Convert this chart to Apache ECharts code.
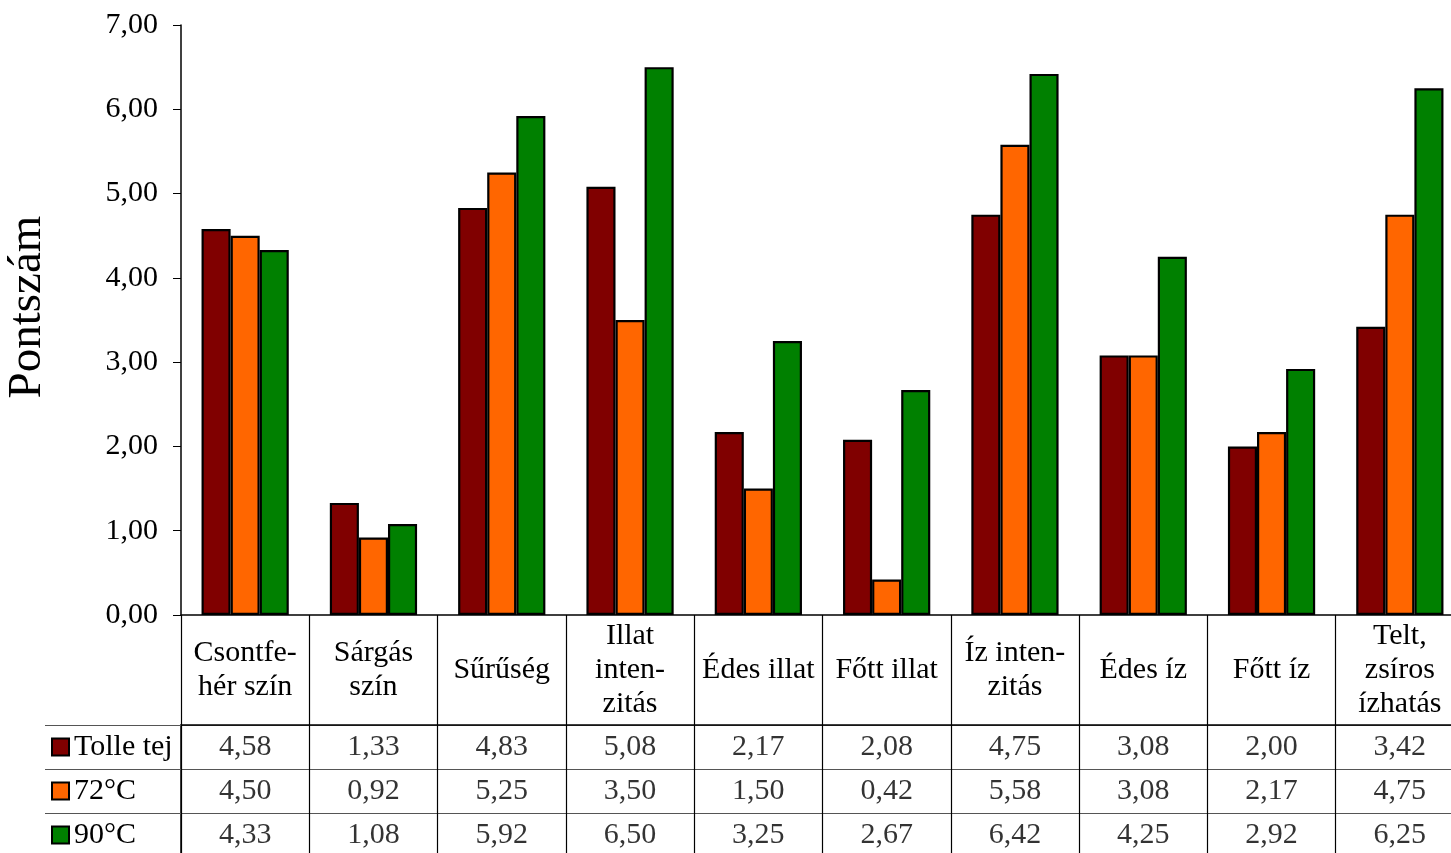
<!DOCTYPE html>
<html>
<head>
<meta charset="utf-8">
<script src="https://cdn.jsdelivr.net/npm/echarts@6/dist/echarts.min.js"></script>
<style>
  html, body { margin: 0; padding: 0; background: #fff; }
  #chart { width: 1451px; height: 853px; }
</style>
</head>
<body>
<div id="chart"></div>
<script>
// Sensory attribute scores per milk treatment
const categories = [
  'Csontfe-\nhér szín', 'Sárgás\nszín', 'Sűrűség', 'Illat\ninten-\nzitás', 'Édes illat',
  'Főtt illat', 'Íz inten-\nzitás', 'Édes íz', 'Főtt íz', 'Telt,\nzsíros\nízhatás'
];
const seriesNames = ['Tolle tej', '72°C', '90°C'];
const tolleTej = [4.58, 1.33, 4.83, 5.08, 2.17, 2.08, 4.75, 3.08, 2.00, 3.42];
const heat72 = [4.50, 0.92, 5.25, 3.50, 1.50, 0.42, 5.58, 3.08, 2.17, 4.75];
const heat90 = [4.33, 1.08, 5.92, 6.50, 3.25, 2.67, 6.42, 4.25, 2.92, 6.25];
const yMin = 0, yMax = 7, yStep = 1;
const axisTitle = 'Pontszám';

const colors = ['#800000', '#FF6600', '#008000'];
const rows = [tolleTej, heat72, heat90];
const FONT = "'Liberation Serif', 'Times New Roman', serif";
const FS = 30;
const fmt = v => v.toFixed(2).replace('.', ',');

// cells of the data table: [column, row, value]
const cells = [];
rows.forEach((vals, r) => vals.forEach((v, c) => cells.push([c, r, v])));

const keyRich = { t: { fontFamily: FONT, fontSize: FS, color: '#000', padding: [0, 0, 0, 6] } };
colors.forEach((col, i) => {
  keyRich['k' + i] = { width: 15, height: 15, backgroundColor: col, borderColor: '#000', borderWidth: 2 };
});

// plot area runs a little past the right edge of the canvas
const plotLeft = 181, plotRight = -13;

const chart = echarts.init(document.getElementById('chart'), null, { renderer: 'canvas' });
chart.setOption({
  animation: false,
  backgroundColor: '#fff',
  textStyle: { fontFamily: FONT },
  grid: [
    { left: plotLeft, right: plotRight, top: 25, height: 590, outerBoundsMode: 'none', containLabel: false },
    { left: plotLeft, right: plotRight, top: 725, bottom: -4, outerBoundsMode: 'none', containLabel: false }
  ],
  xAxis: [
    {
      gridIndex: 0, type: 'category', data: categories,
      axisLine: { lineStyle: { color: '#000', width: 1.5 } },
      axisTick: { show: true, length: 110, lineStyle: { color: '#000', width: 1.2 } },
      axisLabel: {
        interval: 0, margin: 55, verticalAlign: 'middle',
        fontFamily: FONT, fontSize: FS, lineHeight: 34, color: '#000'
      },
      splitLine: { show: false }
    },
    {
      gridIndex: 1, type: 'category', data: categories, position: 'top',
      axisLine: { lineStyle: { color: '#000', width: 1.5 } },
      axisTick: { show: false }, axisLabel: { show: false },
      splitLine: { show: true, lineStyle: { color: '#000', width: 1.2 } }
    }
  ],
  yAxis: [
    {
      gridIndex: 0, type: 'value', min: yMin, max: yMax, interval: yStep,
      axisLine: { show: true, lineStyle: { color: '#000', width: 1.5 } },
      axisTick: { show: true, length: 8, lineStyle: { color: '#000' } },
      axisLabel: { formatter: v => fmt(v), margin: 23, fontFamily: FONT, fontSize: FS, color: '#000' },
      splitLine: { show: false }
    },
    {
      gridIndex: 1, type: 'category', data: seriesNames, inverse: true,
      axisLine: { show: true, lineStyle: { color: '#000', width: 1.5 } },
      axisTick: { show: true, length: 136, lineStyle: { color: '#555', width: 1.2 } },
      axisLabel: {
        align: 'left', margin: 128,
        formatter: (v, i) => '{k' + i + '|}{t|' + v + '}',
        rich: keyRich
      },
      splitLine: { show: true, lineStyle: { color: '#555', width: 1.2 } }
    },
    {
      gridIndex: 1, type: 'category', data: seriesNames, inverse: true, offset: 136,
      axisLine: { show: true, lineStyle: { color: '#000', width: 1.5 } },
      axisTick: { show: false }, axisLabel: { show: false }, splitLine: { show: false }
    }
  ],
  series: [
    ...rows.map((vals, i) => ({
      name: seriesNames[i], type: 'bar', xAxisIndex: 0, yAxisIndex: 0,
      data: vals, barGap: '0%', barCategoryGap: '32%',
      itemStyle: { color: colors[i], borderColor: '#000', borderWidth: 2.2 }
    })),
    {
      type: 'scatter', xAxisIndex: 1, yAxisIndex: 1, data: cells, silent: true,
      symbolSize: 1, itemStyle: { color: 'rgba(0,0,0,0)' },
      label: {
        show: true, position: 'inside', formatter: p => fmt(p.value[2]),
        fontFamily: FONT, fontSize: FS, color: '#000'
      }
    }
  ],
  graphic: [{
    type: 'text', x: 28, y: 307, rotation: Math.PI / 2,
    style: { text: axisTitle, fontFamily: FONT, fontSize: 47, fill: '#000', align: 'center', verticalAlign: 'middle' }
  }]
});
</script>
</body>
</html>
